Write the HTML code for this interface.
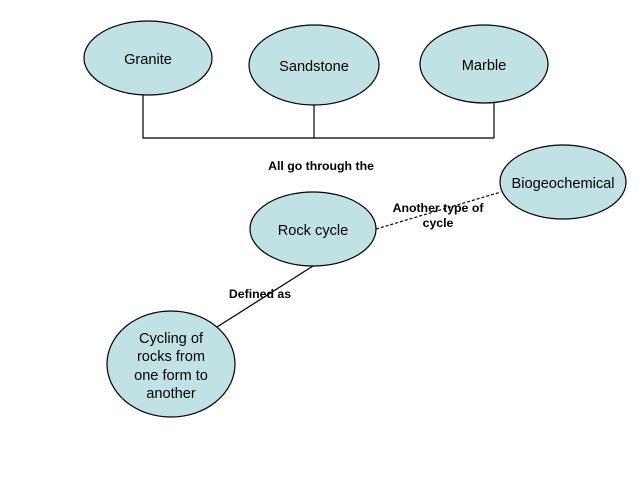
<!DOCTYPE html>
<html><head><style>
html,body{margin:0;padding:0;background:#fff;}
svg{display:block;}
text{font-family:"Liberation Sans",Arial,sans-serif;fill:#000;}
</style></head><body>
<svg width="638" height="479" viewBox="0 0 638 479" xmlns="http://www.w3.org/2000/svg">
<g stroke="#000" stroke-width="1.2" fill="none">
<polyline points="143,95 143,138 494,138"/>
<line x1="314" y1="104" x2="314" y2="138"/>
<line x1="494" y1="102" x2="494" y2="138"/>
<line x1="313" y1="266" x2="217" y2="327"/>
<line x1="376" y1="229" x2="501" y2="192" stroke-dasharray="3,2"/>
</g>
<g fill="#c1e2e4" stroke="#000" stroke-width="1.2">
<ellipse cx="148" cy="58" rx="64" ry="37"/>
<ellipse cx="314" cy="65" rx="65" ry="40"/>
<ellipse cx="484" cy="64" rx="64" ry="39"/>
<ellipse cx="313" cy="229" rx="63" ry="37"/>
<ellipse cx="563" cy="182" rx="63" ry="37"/>
<ellipse cx="171" cy="364" rx="64" ry="53"/>
</g>
<g font-size="14.6" text-anchor="middle">
<text x="148" y="64">Granite</text>
<text x="314" y="71">Sandstone</text>
<text x="484" y="70">Marble</text>
<text x="313" y="235">Rock cycle</text>
<text x="563" y="188">Biogeochemical</text>
<text x="171" y="343">Cycling of</text>
<text x="171" y="361">rocks from</text>
<text x="171" y="380">one form to</text>
<text x="171" y="398">another</text>
</g>
<g font-size="12.3" font-weight="bold" text-anchor="middle">
<text x="321" y="170">All go through the</text>
<text x="438" y="212">Another type of</text>
<text x="438" y="227">cycle</text>
<text x="260" y="298">Defined as</text>
</g>
</svg>
</body></html>
